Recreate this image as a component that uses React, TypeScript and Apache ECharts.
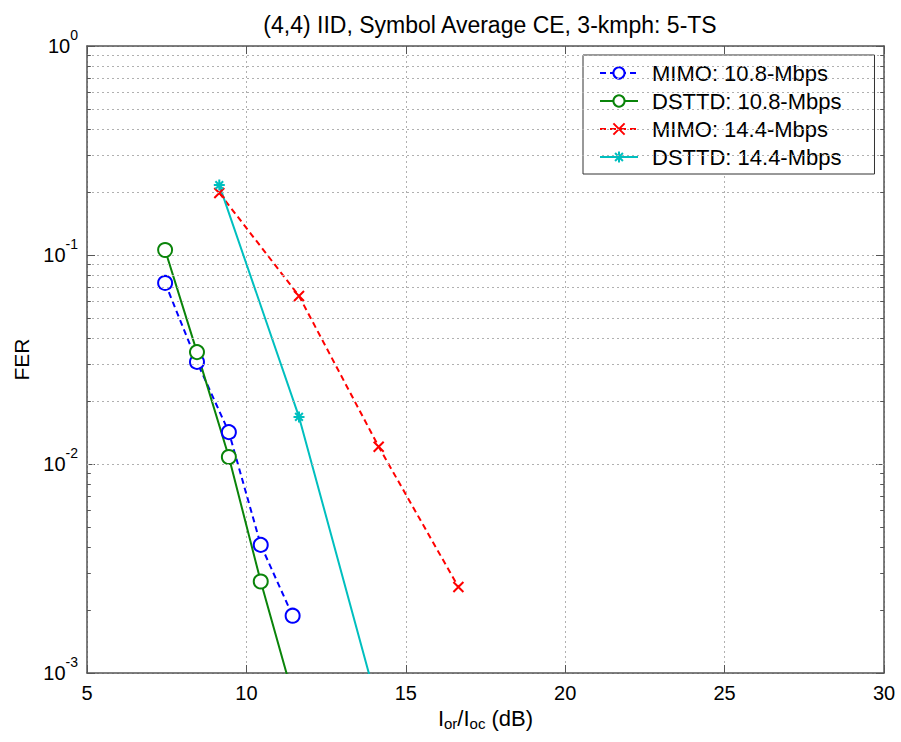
import React, { useEffect, useRef } from "react";
import * as echarts from "echarts";

const titleText = "(4,4) IID, Symbol Average CE, 3-kmph: 5-TS";
const seriesNames = ["MIMO: 10.8-Mbps", "DSTTD: 10.8-Mbps", "MIMO: 14.4-Mbps", "DSTTD: 14.4-Mbps"];

const x108 = [7.45, 8.45, 9.45, 10.45, 11.45];
const mimo108 = [0.0735, 0.0308, 0.0142, 0.0041, 0.00188];
const dsttd108 = [0.1057, 0.0343, 0.0108, 0.00274, 0.000785];

const x144 = [9.15, 11.65, 14.15, 16.65];
const mimo144 = [0.198, 0.0637, 0.0121, 0.00258];
const dsttd144 = [0.216, 0.0168, 0.00067];

const xTicks = [5, 10, 15, 20, 25, 30];
const yDecades = [0.001, 0.01, 0.1, 1];
const yMinorMultipliers = [2, 3, 4, 5, 6, 7, 8, 9];

const FONT = "'Liberation Sans', Arial, Helvetica, sans-serif";
const GRID_COLOR = "#b0b0b0";
const AXIS_COLOR = "#555";

const zip = (xs: number[], ys: number[]) => ys.map((y, i) => [xs[i], y]);

export default function App() {
  const ref = useRef<HTMLDivElement>(null);
  useEffect(() => {
    document.body.style.margin = "0";
    document.body.style.background = "#fff";
    const chart = echarts.init(ref.current!, null, { renderer: "svg" });

    const minorVals: number[] = [];
    yDecades.slice(0, -1).forEach((d) => yMinorMultipliers.forEach((m) => minorVals.push(+(d * m).toPrecision(3))));
    const xMin = xTicks[0];
    const xMax = xTicks[xTicks.length - 1];
    const tickLen = 0.12;

    const minorTickSegs: any[] = [];
    minorVals.forEach((v) => {
      minorTickSegs.push([{ coord: [xMin, v] }, { coord: [xMin + tickLen, v] }]);
      minorTickSegs.push([{ coord: [xMax - tickLen, v] }, { coord: [xMax, v] }]);
    });

    const supLabel = (v: number) => {
      const e = Math.round(Math.log10(v));
      return "{b|10}{s|" + e + "}";
    };

    const xSym = "path://M0,0L10,10M10,0L0,10";
    const starSym = "path://M5,0L5,10M0,5L10,5M1.5,1.5L8.5,8.5M8.5,1.5L1.5,8.5";

    chart.setOption({
      animation: false,
      backgroundColor: "#fff",
      textStyle: { fontFamily: FONT },
      title: {
        text: titleText,
        left: 485,
        top: 8,
        textAlign: "center",
        textStyle: { fontFamily: FONT, fontSize: 23, fontWeight: "normal", color: "#000" },
      },
      grid: { left: 87, top: 46, right: 17, bottom: 69 },
      legend: {
        left: 583,
        top: 55,
        orient: "vertical",
        backgroundColor: "#fff",
        borderColor: "#333",
        borderWidth: 1,
        borderRadius: 0,
        padding: [7, 33, 6, 16],
        itemWidth: 38,
        itemHeight: 14,
        itemGap: 6,
        textStyle: { fontFamily: FONT, fontSize: 22, color: "#000", padding: [0, 0, 0, 9] },
        data: seriesNames,
      },
      xAxis: [
        {
          type: "value",
          min: xMin,
          max: xMax,
          interval: 5,
          name: "I{sub|or}/I{sub|oc} (dB)",
          nameLocation: "middle",
          nameGap: 26,
          nameTextStyle: {
            fontFamily: FONT,
            fontSize: 22,
            color: "#000",
            rich: { sub: { fontFamily: FONT, fontSize: 15, verticalAlign: "bottom", padding: [9, 0, 0, 0], color: "#000" } },
          },
          axisLine: { show: true, lineStyle: { color: AXIS_COLOR, width: 1.5 } },
          axisTick: { show: true, inside: true, length: 8, lineStyle: { color: AXIS_COLOR } },
          axisLabel: { fontFamily: FONT, fontSize: 20, color: "#000", margin: 10 },
          splitLine: { show: true, lineStyle: { color: GRID_COLOR, type: [2, 3], width: 1 } },
        },
        {
          type: "value",
          position: "top",
          min: xMin,
          max: xMax,
          interval: 5,
          axisLine: { show: true, lineStyle: { color: AXIS_COLOR, width: 1.5 } },
          axisTick: { show: true, inside: true, length: 8, lineStyle: { color: AXIS_COLOR } },
          axisLabel: { show: false },
          splitLine: { show: false },
        },
      ],
      yAxis: [
        {
          type: "log",
          logBase: 10,
          min: yDecades[0],
          max: yDecades[yDecades.length - 1],
          name: "FER",
          nameLocation: "middle",
          nameGap: 55,
          nameTextStyle: { fontFamily: FONT, fontSize: 21, color: "#000" },
          axisLine: { show: true, lineStyle: { color: AXIS_COLOR, width: 1.5 } },
          axisTick: { show: true, inside: true, length: 8, lineStyle: { color: AXIS_COLOR } },
          axisLabel: {
            formatter: supLabel,
            margin: 9,
            color: "#000",
            rich: {
              b: { fontFamily: FONT, fontSize: 20, lineHeight: 36, color: "#000" },
              s: { fontFamily: FONT, fontSize: 14, lineHeight: 15, verticalAlign: "top", color: "#000" },
            },
          },
          splitLine: { show: true, lineStyle: { color: GRID_COLOR, type: [2, 3], width: 1 } },
        },
        {
          type: "log",
          logBase: 10,
          position: "right",
          min: yDecades[0],
          max: yDecades[yDecades.length - 1],
          axisLine: { show: true, lineStyle: { color: AXIS_COLOR, width: 1.5 } },
          axisTick: { show: true, inside: true, length: 8, lineStyle: { color: AXIS_COLOR } },
          axisLabel: { show: false },
          splitLine: { show: false },
        },
      ],
      series: [
        {
          name: "__grid",
          type: "line",
          data: [],
          silent: true,
          markLine: {
            silent: true,
            symbol: "none",
            label: { show: false },
            lineStyle: { color: GRID_COLOR, type: [2, 3], width: 1 },
            data: minorVals.map((v) => ({ yAxis: v })),
          },
        },
        {
          name: "__ticks",
          type: "line",
          data: [],
          silent: true,
          markLine: {
            silent: true,
            symbol: "none",
            label: { show: false },
            lineStyle: { color: AXIS_COLOR, type: "solid", width: 1 },
            data: minorTickSegs,
          },
        },
        {
          name: seriesNames[0],
          type: "line",
          data: zip(x108, mimo108),
          clip: true,
          symbol: "emptyCircle",
          symbolSize: 14,
          itemStyle: { color: "#0000ff", borderWidth: 2 },
          lineStyle: { color: "#0000ff", width: 2, type: [6, 4] },
        },
        {
          name: seriesNames[1],
          type: "line",
          data: zip(x108, dsttd108),
          clip: true,
          symbol: "emptyCircle",
          symbolSize: 14,
          itemStyle: { color: "#0a840a", borderWidth: 2 },
          lineStyle: { color: "#0a840a", width: 2, type: "solid" },
        },
        {
          name: seriesNames[2],
          type: "line",
          data: zip(x144, mimo144),
          clip: true,
          symbol: xSym,
          symbolSize: 10,
          itemStyle: { color: "#ff0000", borderColor: "#ff0000", borderWidth: 2 },
          lineStyle: { color: "#ff0000", width: 2, type: [6, 4] },
        },
        {
          name: seriesNames[3],
          type: "line",
          data: zip(x144, dsttd144),
          clip: true,
          symbol: starSym,
          symbolSize: 11,
          itemStyle: { color: "#00bfbf", borderColor: "#00bfbf", borderWidth: 2 },
          lineStyle: { color: "#00bfbf", width: 2, type: "solid" },
        },
      ],
    });
    return () => chart.dispose();
  }, []);
  return <div ref={ref} style={{ width: 901, height: 742 }} />;
}
